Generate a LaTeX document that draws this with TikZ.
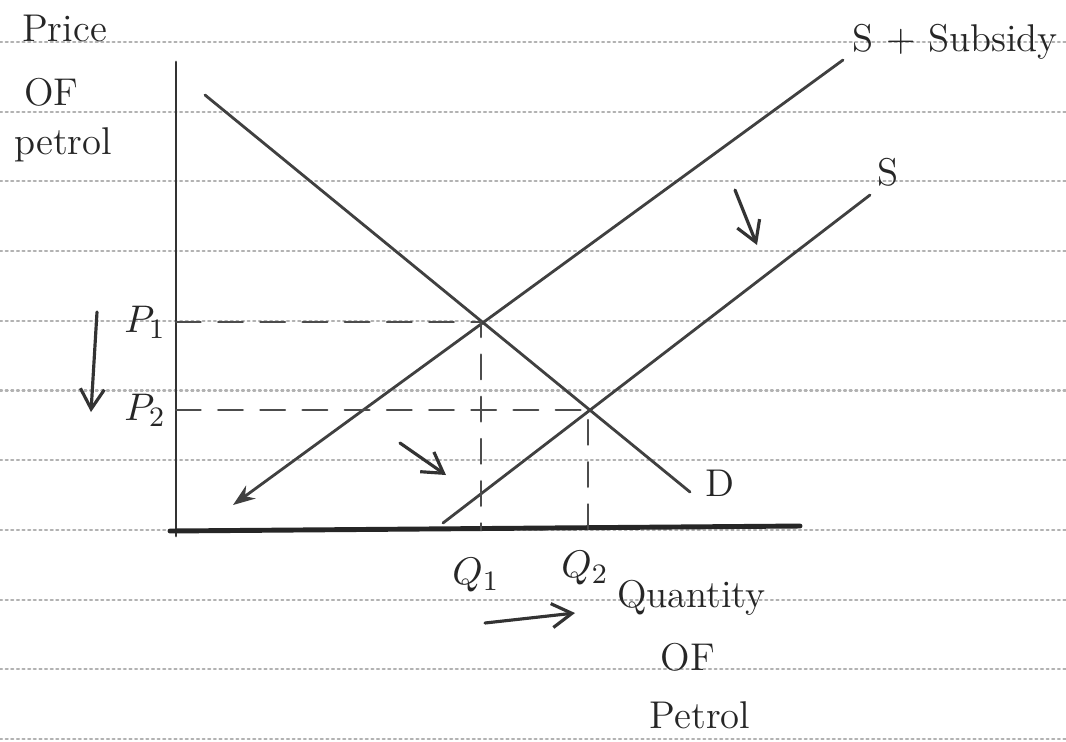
\documentclass[tikz,border=0pt]{standalone}
\usepackage{amsmath,amssymb}
\usepackage{tikz}
\usetikzlibrary{arrows.meta}
\usepackage{xcolor}

\begin{document}
\begin{tikzpicture}[x=0.01cm,y=-0.01cm,>={Straight Barb[length=2mm,width=2.4mm]},
  font=\fontsize{11}{13}\selectfont,line cap=round,
  ruled/.style={gray!60,densely dotted,line width=0.6pt},
  curve/.style={black!75,line width=0.8pt},
  guide/.style={black!70,dashed,dash pattern=on 7pt off 5pt,line width=0.7pt},
  shiftarrow/.style={->,black!80,line width=0.9pt},
  lbl/.style={inner sep=1pt,text=black!85}]
\useasboundingbox (0,0) rectangle (1066,741);
\fill[white] (0,0) rectangle (1066,741);
% paper lines
\foreach \k in {0,...,10}
  \draw[ruled] (0,{42+69.7*\k}) -- (1066,{42+69.7*\k});
% axes
\coordinate (origin) at (176,530);
\coordinate (ytop) at (176,62);
\coordinate (xend) at (800,526);
\draw[black!80,line width=0.8pt] (ytop) -- (176,536);
\draw[black!85,line width=1.4pt] (170,531) -- (xend);
% curves
\coordinate (dtop) at (205,95);
\coordinate (dend) at (690,492);
\coordinate (sstop) at (843,60);
\coordinate (ssend) at (233,505);
\coordinate (stop) at (870,195);
\coordinate (send) at (443,523);
\coordinate (e1) at (481,322);
\coordinate (e2) at (588,410);
\draw[curve] (dtop) -- (dend);
\draw[curve,-{Stealth[length=2.2mm,width=1.6mm]}] (sstop) -- (ssend);
\draw[curve] (stop) -- (send);
% equilibrium guides
\draw[guide] (176,322) -- (e1) -- (481,530);
\draw[guide] (176,410) -- (e2) -- (588,530);
% labels
\node[lbl,anchor=west] (price) at (18,28) {Price};
\node[lbl,anchor=west] (of1) at (20,92) {OF};
\node[lbl,anchor=west] (petrol1) at (10,145) {petrol};
\node[lbl,anchor=east] (sslab) at (1062,42) {S + Subsidy};
\node[lbl] (slab) at (888,172) {S};
\node[lbl] (dlab) at (720,483) {D};
\node[lbl,anchor=east] (p1) at (170,322) {$P_1$};
\node[lbl,anchor=east] (p2) at (170,410) {$P_2$};
\node[lbl] (q1) at (476,575) {$Q_1$};
\node[lbl] (q2) at (585,568) {$Q_2$};
\node[lbl,anchor=west] (qty) at (613,598) {Quantity};
\node[lbl] (of2) at (688,657) {OF};
\node[lbl] (petrol2) at (700,715) {Petrol};
% shift arrows
\coordinate (pa) at (97,312);
\coordinate (pb) at (91,412);
\draw[shiftarrow] (pa) -- (pb);
\coordinate (sa) at (735,190);
\coordinate (sb) at (757,245);
\draw[shiftarrow] (sa) -- (sb);
\coordinate (ta) at (400,443);
\coordinate (tb) at (446,475);
\draw[shiftarrow] (ta) -- (tb);
\coordinate (qa) at (485,623);
\coordinate (qb) at (575,613);
\draw[shiftarrow] (qa) -- (qb);
\end{tikzpicture}
\end{document}
